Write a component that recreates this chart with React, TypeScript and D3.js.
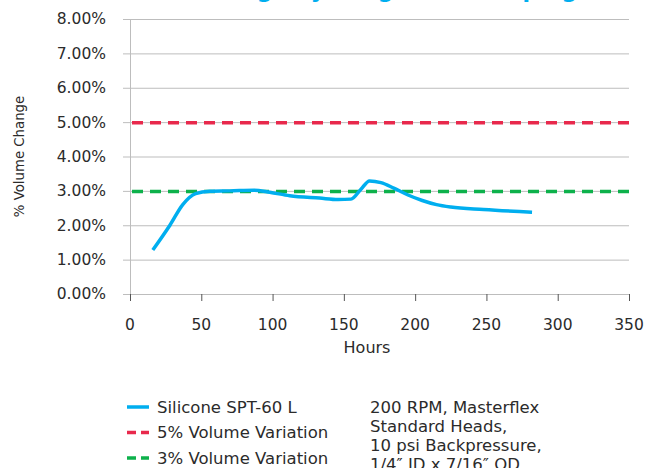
import { useEffect, useRef } from "react";
import * as d3 from "d3";

const W = 646;
const H = 468;
const MARGIN = { top: 19, right: 17, bottom: 174, left: 130 };

// Silicone SPT-60 L measurements (hours, % volume change)
const hours = [16, 28, 37, 46, 56, 70, 87, 98, 112, 133, 146, 155, 162, 168, 176, 185, 195, 205, 215, 225, 248, 282];
const volumeChange = [1.28, 2.0, 2.6, 2.92, 2.99, 3.0, 3.02, 2.96, 2.86, 2.79, 2.75, 2.76, 3.05, 3.29, 3.24, 3.08, 2.88, 2.72, 2.6, 2.53, 2.46, 2.38];

const xTicks = [0, 50, 100, 150, 200, 250, 300, 350];
const yTicks = [0, 1, 2, 3, 4, 5, 6, 7, 8];
const limits = [
  { label: "5% Volume Variation", value: 5, color: "#e8294c" },
  { label: "3% Volume Variation", value: 3, color: "#0db14b" },
];
const noteLines = ["200 RPM, Masterflex", "Standard Heads,", "10 psi Backpressure,", "1/4\u2033 ID x 7/16\u2033 OD"];

const BLUE = "#00aeef";
const FONT = "'DejaVu Sans', sans-serif";
const TEXT = "#2b2b2b";

export default function App() {
  const svgRef = useRef<SVGSVGElement | null>(null);

  useEffect(() => {
    if (!svgRef.current) return;
    const svg = d3.select(svgRef.current);
    svg.selectAll("*").remove();

    const innerW = W - MARGIN.left - MARGIN.right;
    const innerH = H - MARGIN.top - MARGIN.bottom;

    const x = d3.scaleLinear().domain([0, 350]).range([0, innerW]);
    const y = d3.scaleLinear().domain([0, 8]).range([innerH, 0]);

    // title, mostly cut off at the top
    svg
      .append("text")
      .attr("x", 336)
      .attr("y", -2)
      .attr("text-anchor", "middle")
      .attr("font-family", FONT)
      .attr("font-weight", "bold")
      .attr("font-size", 22)
      .attr("fill", BLUE)
      .text("Volume Change by Long-Term Pumping");

    const root = svg.append("g").attr("transform", `translate(${MARGIN.left},${MARGIN.top})`);

    // horizontal grid + y ticks
    root
      .append("g")
      .selectAll("line")
      .data(yTicks)
      .join("line")
      .attr("x1", -7)
      .attr("x2", innerW)
      .attr("y1", (d) => y(d) + 0.5)
      .attr("y2", (d) => y(d) + 0.5)
      .attr("stroke", "#bdbdbd")
      .attr("stroke-width", 1);

    // y axis line
    root
      .append("line")
      .attr("x1", 0.5)
      .attr("x2", 0.5)
      .attr("y1", 0)
      .attr("y2", innerH + 7)
      .attr("stroke", "#bdbdbd");

    // x ticks
    root
      .append("g")
      .selectAll("line")
      .data(xTicks)
      .join("line")
      .attr("x1", (d) => x(d) + 0.5)
      .attr("x2", (d) => x(d) + 0.5)
      .attr("y1", innerH)
      .attr("y2", innerH + 7)
      .attr("stroke", "#555")
      .attr("stroke-width", 1);

    // y tick labels
    root
      .append("g")
      .selectAll("text")
      .data(yTicks)
      .join("text")
      .attr("x", -24)
      .attr("y", (d) => y(d))
      .attr("dy", "0.35em")
      .attr("text-anchor", "end")
      .attr("font-family", FONT)
      .attr("font-size", 15.5)
      .attr("fill", TEXT)
      .text((d) => `${d.toFixed(2)}%`);

    // x tick labels
    root
      .append("g")
      .selectAll("text")
      .data(xTicks)
      .join("text")
      .attr("x", (d) => x(d))
      .attr("y", innerH + 36)
      .attr("text-anchor", "middle")
      .attr("font-family", FONT)
      .attr("font-size", 15.5)
      .attr("fill", TEXT)
      .text((d) => String(d));

    // axis titles
    root
      .append("text")
      .attr("x", 237)
      .attr("y", innerH + 59)
      .attr("text-anchor", "middle")
      .attr("font-family", FONT)
      .attr("font-size", 16)
      .attr("fill", TEXT)
      .text("Hours");

    svg
      .append("text")
      .attr("transform", `translate(19,${MARGIN.top + y(4)}) rotate(-90)`)
      .attr("text-anchor", "middle")
      .attr("dy", "0.35em")
      .attr("font-family", FONT)
      .attr("font-size", 13.3)
      .attr("fill", TEXT)
      .text("% Volume Change");

    // limit lines
    limits.forEach((l) => {
      root
        .append("line")
        .attr("x1", x(0) + 2)
        .attr("x2", x(350))
        .attr("y1", y(l.value) + 0.5)
        .attr("y2", y(l.value) + 0.5)
        .attr("stroke", l.color)
        .attr("stroke-width", 3.5)
        .attr("stroke-dasharray", "11 7");
    });

    // data line
    const pts = hours.map((h, i) => [h, volumeChange[i]] as [number, number]);
    const line = d3
      .line<[number, number]>()
      .x((d) => x(d[0]))
      .y((d) => y(d[1]))
      .curve(d3.curveMonotoneX);
    root
      .append("path")
      .attr("d", line(pts) ?? "")
      .attr("fill", "none")
      .attr("stroke", BLUE)
      .attr("stroke-width", 3.5);

    // legend
    const legend = svg.append("g").attr("transform", "translate(127,407)");
    const items = [
      { label: "Silicone SPT-60 L", color: BLUE, dash: null as string | null },
      ...limits.map((l) => ({ label: l.label, color: l.color, dash: "9 5" })),
    ];
    items.forEach((it, i) => {
      const g = legend.append("g").attr("transform", `translate(0,${i * 25.5})`);
      g.append("line")
        .attr("x1", 0)
        .attr("x2", 22)
        .attr("y1", 0)
        .attr("y2", 0)
        .attr("stroke", it.color)
        .attr("stroke-width", 3.5)
        .attr("stroke-dasharray", it.dash ?? null);
      g.append("text")
        .attr("x", 30)
        .attr("y", 0)
        .attr("dy", "0.35em")
        .attr("font-family", FONT)
        .attr("font-size", 16.5)
        .attr("fill", TEXT)
        .text(it.label);
    });

    const note = svg.append("g").attr("transform", "translate(370,407)");
    noteLines.forEach((t, i) => {
      note
        .append("text")
        .attr("x", 0)
        .attr("y", i * 19)
        .attr("dy", "0.35em")
        .attr("font-family", FONT)
        .attr("font-size", 16.5)
        .attr("fill", TEXT)
        .text(t);
    });
  }, []);

  return (
    <svg
      ref={svgRef}
      width={W}
      height={H}
      style={{ position: "absolute", left: 0, top: 0, background: "#fff" }}
    />
  );
}
